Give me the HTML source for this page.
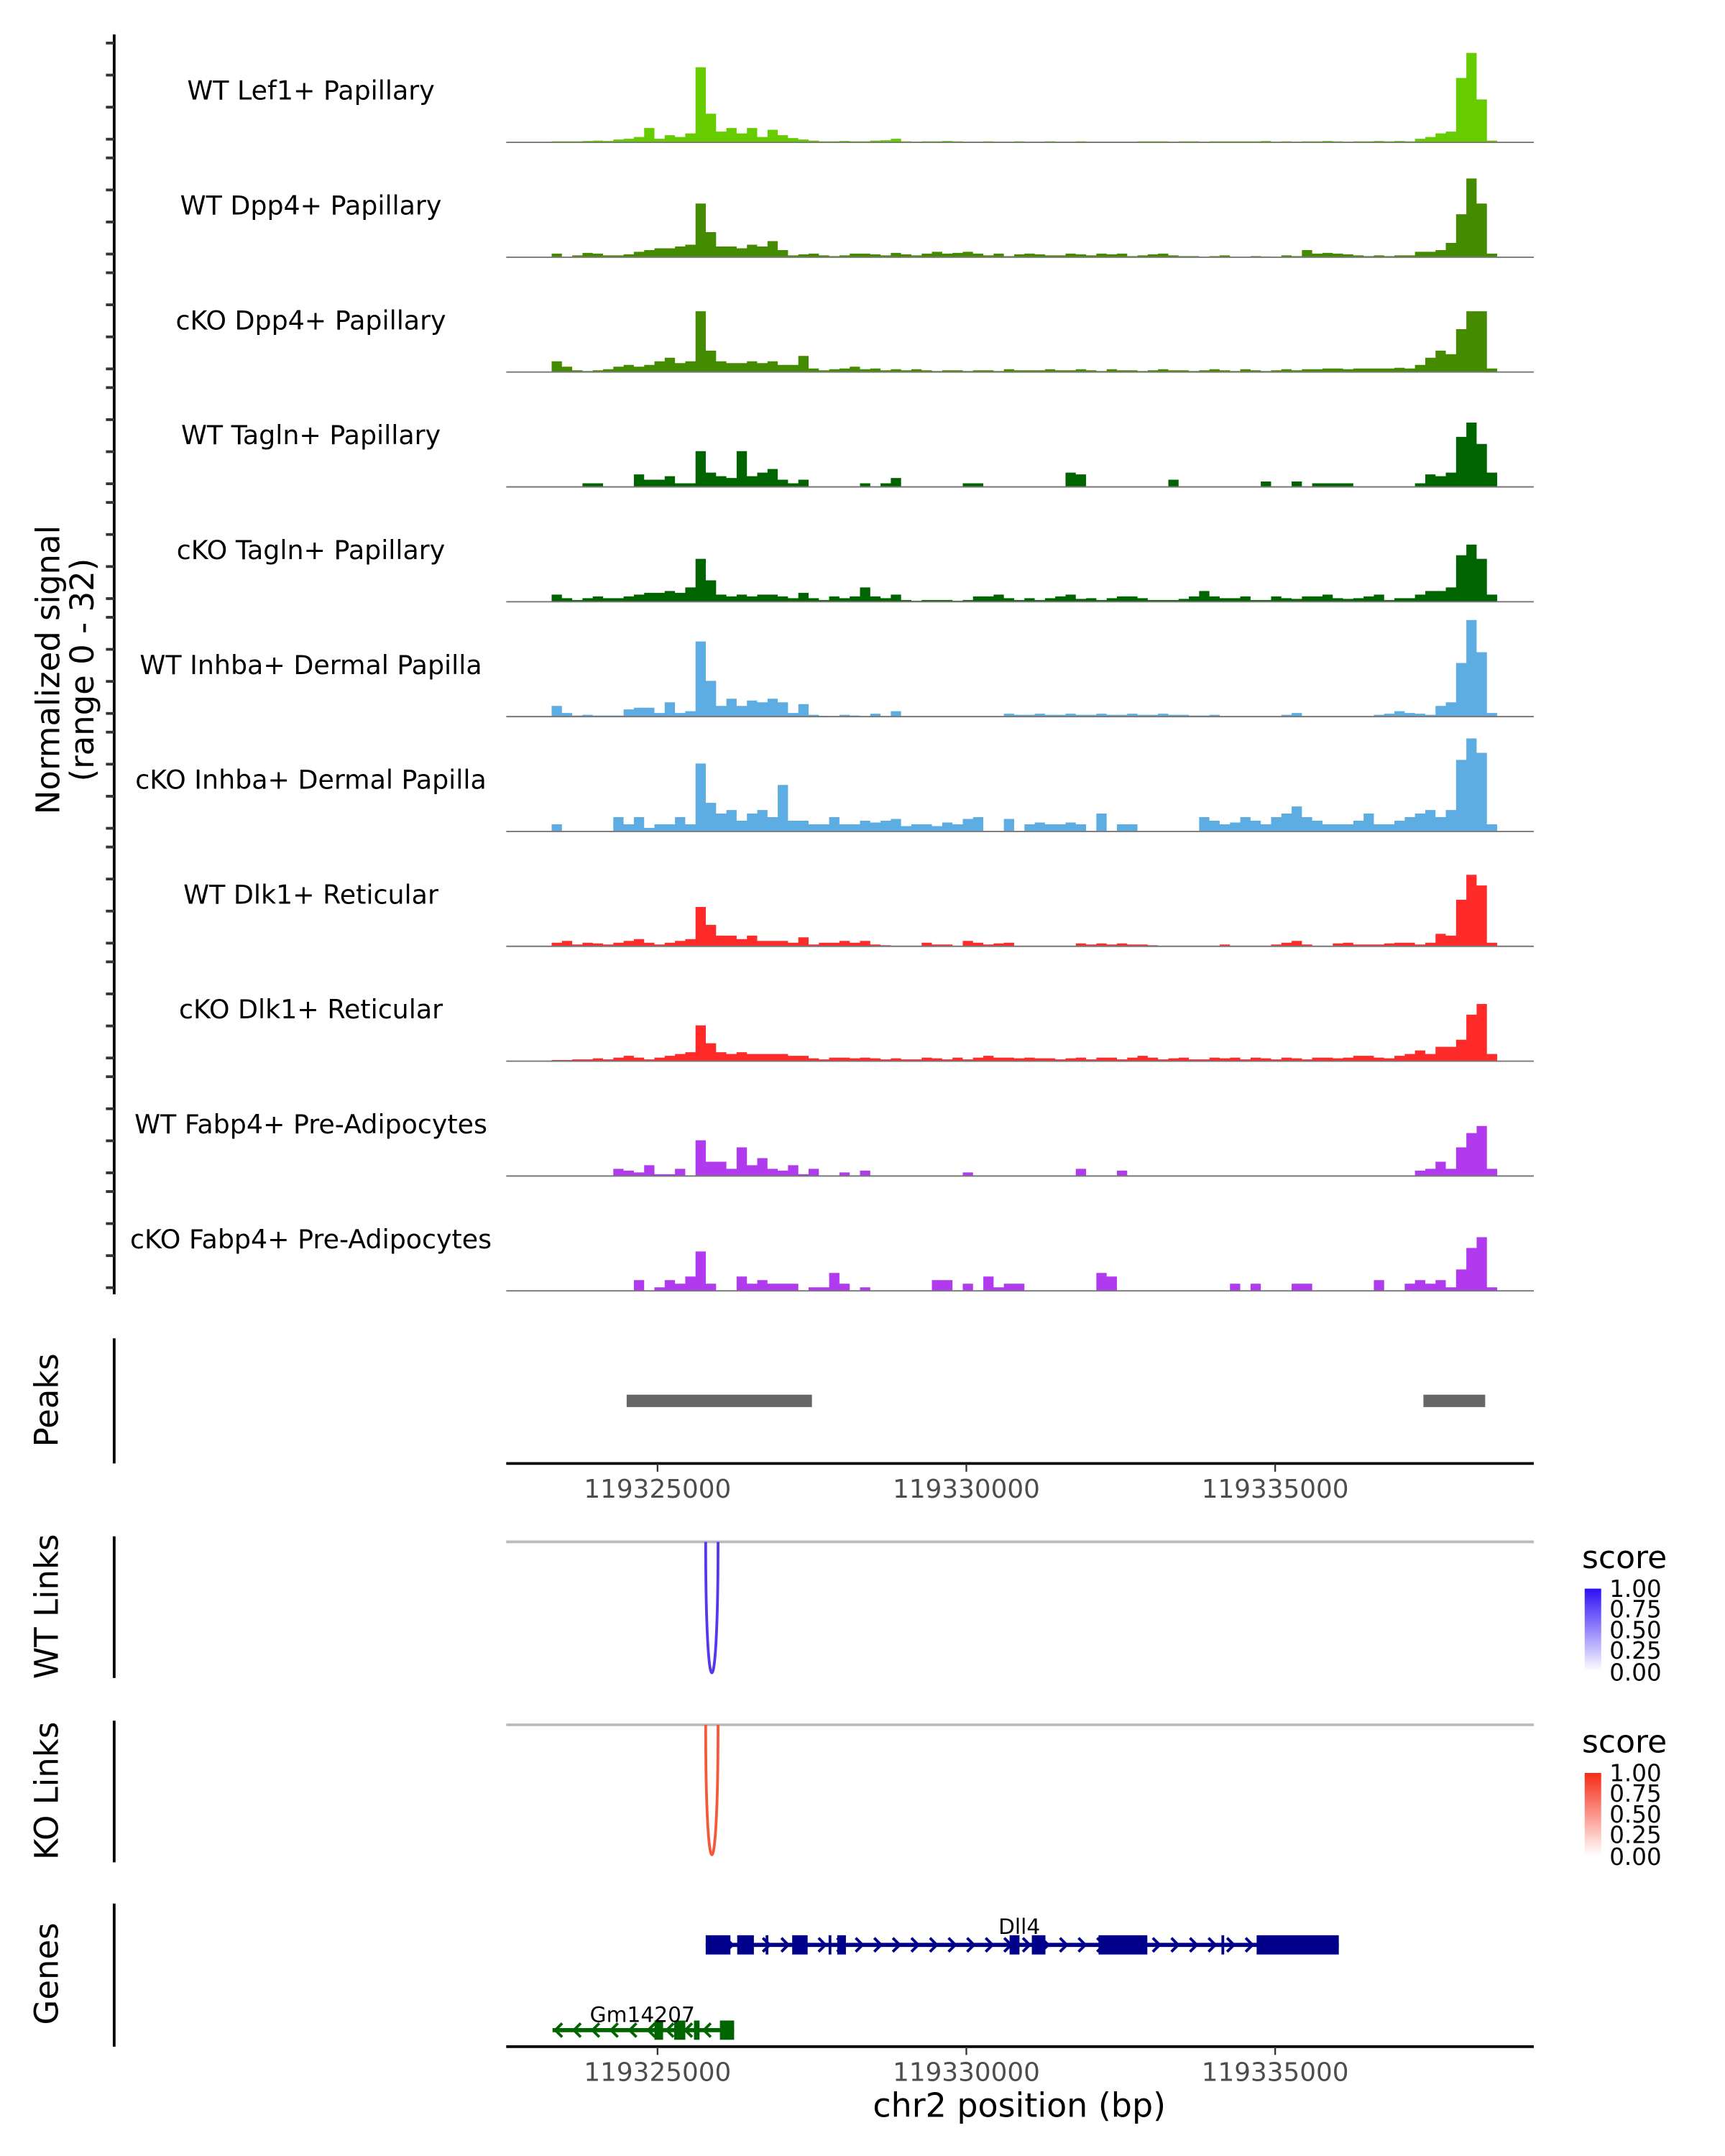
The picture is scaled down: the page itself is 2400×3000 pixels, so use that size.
<!DOCTYPE html>
<html><head><meta charset="utf-8"><style>
html,body{margin:0;padding:0;background:#fff;}
svg{display:block;font-family:"DejaVu Sans","Liberation Sans",sans-serif;}
</style></head><body>
<svg id="chart" width="2400" height="3000" viewBox="0 0 1254 1567.5" preserveAspectRatio="none" xmlns="http://www.w3.org/2000/svg">
<rect width="1254" height="1568" fill="#fff"/>
<g id="tracks"></g>
<line x1="83" y1="25" x2="83" y2="941" stroke="#000" stroke-width="2"/>
<g id="yticks"></g>
<text transform="translate(43,487) rotate(-90)" text-anchor="middle" font-size="23.5">Normalized signal</text>
<text transform="translate(68,487) rotate(-90)" text-anchor="middle" font-size="23.5">(range 0 - 32)</text>

<line x1="83" y1="973" x2="83" y2="1064" stroke="#000" stroke-width="2"/>
<text transform="translate(42,1018) rotate(-90)" text-anchor="middle" font-size="23.5">Peaks</text>
<g id="peaks"></g>
<g id="xaxis1"></g>

<line x1="83" y1="1117" x2="83" y2="1220" stroke="#000" stroke-width="2"/>
<text transform="translate(42,1168) rotate(-90)" text-anchor="middle" font-size="23.5">WT Links</text>
<line x1="368" y1="1121" x2="1115" y2="1121" stroke="#bbb" stroke-width="2"/>
<path d="M513 1121 C513 1248 522 1248 522 1121" fill="none" stroke="#5a35ee" stroke-width="2"/>
<text x="1150" y="1140" font-size="23">score</text>
<defs>
<linearGradient id="gb" x1="0" y1="1" x2="0" y2="0"><stop offset="0" stop-color="#fff"/><stop offset="1" stop-color="#2b0ff5"/></linearGradient>
<linearGradient id="gr" x1="0" y1="1" x2="0" y2="0"><stop offset="0" stop-color="#fff"/><stop offset="1" stop-color="#f52a15"/></linearGradient>
</defs>
<rect x="1152" y="1155" width="12" height="60" fill="url(#gb)"/>
<g font-size="17">
<text x="1170" y="1161">1.00</text><text x="1170" y="1176">0.75</text><text x="1170" y="1191">0.50</text><text x="1170" y="1206">0.25</text><text x="1170" y="1222">0.00</text></g>

<line x1="83" y1="1251" x2="83" y2="1354" stroke="#000" stroke-width="2"/>
<text transform="translate(42,1302) rotate(-90)" text-anchor="middle" font-size="23.5">KO Links</text>
<line x1="368" y1="1254" x2="1115" y2="1254" stroke="#bbb" stroke-width="2"/>
<path d="M513 1254 C513 1380 522 1380 522 1254" fill="none" stroke="#f5593a" stroke-width="2"/>
<text x="1150" y="1274" font-size="23">score</text>
<rect x="1152" y="1289" width="12" height="60" fill="url(#gr)"/>
<g font-size="17">
<text x="1170" y="1295">1.00</text><text x="1170" y="1310">0.75</text><text x="1170" y="1325">0.50</text><text x="1170" y="1340">0.25</text><text x="1170" y="1356">0.00</text></g>

<line x1="83" y1="1384" x2="83" y2="1488" stroke="#000" stroke-width="2"/>
<text transform="translate(42,1435) rotate(-90)" text-anchor="middle" font-size="23.5">Genes</text>
<g id="genes"></g>
<g id="xaxis2"></g>
<text x="741" y="1539" text-anchor="middle" font-size="24">chr2 position (bp)</text>
</svg>
<script>
const NS="http://www.w3.org/2000/svg";
const trackNames=["WT Lef1+ Papillary","WT Dpp4+ Papillary","cKO Dpp4+ Papillary","WT Tagln+ Papillary","cKO Tagln+ Papillary","WT Inhba+ Dermal Papilla","cKO Inhba+ Dermal Papilla","WT Dlk1+ Reticular","cKO Dlk1+ Reticular","WT Fabp4+ Pre-Adipocytes","cKO Fabp4+ Pre-Adipocytes"];
const trackColors=["#66cc00","#458b00","#458b00","#006400","#006400","#5dade2","#5dade2","#ff2a2a","#ff2a2a","#b23aee","#b23aee"];
const binStart=119322620, binSize=166.4;
const tickPositions=[119325000,119330000,119335000];
const tickLabels=["119325000","119330000","119335000"];
const yTickValues=[0,10,20,30];
const wtLef1=[0,0,0,0,0.3,0.3,0.3,0.4,0.5,0.4, 0.8,1,1.5,4,1,2,1.5,2.5,21,8, 3,4,2.5,4,1.5,3.5,2,1.2,0.8,0.5, 0.3,0.3,0.4,0.3,0.3,0.5,0.6,1,0.3,0.2, 0.3,0.3,0.4,0.3,0.2,0.2,0.3,0.2,0.2,0.3, 0.2,0.2,0.3,0.2,0.2,0.3,0.2,0.2,0.2,0.2, 0.2,0.3,0.3,0.3,0.2,0.3,0.3,0.2,0.3,0.3, 0.3,0.3,0.3,0.4,0.2,0.3,0.2,0.3,0.3,0.4, 0.3,0.2,0.3,0.3,0.4,0.3,0.4,0.3,1,1.5, 2.5,3,18,25,12,0.5,0,0,0,0];
const wtDpp4=[0,0,0,0,1,0,0.5,1.2,1,0.5, 0.5,0.8,1.5,2,2.5,2.5,3,3.5,15,7, 3,3,2.5,3.5,3,4.5,2,0.5,0.8,1, 0.5,0.3,0.5,1,1,0.8,0.5,1.2,0.8,0.5, 1,1.5,1,1.2,1.5,1,0.5,1,0.3,0.8, 1,0.8,0.5,0.5,1,0.8,0.5,1,0.8,1, 0.3,0.5,0.8,1,0.5,0.3,0.3,0,0.3,0.5, 0,0,0.3,0.2,0,0.5,0.3,2,1,1.2, 1,0.8,0.5,0.3,0.5,0.3,0.5,0.5,1.5,1.5, 2,4,12,22,15,1,0,0,0,0];
const ckoDpp4=[0,0,0,0,3,1.5,0.5,0.3,0.5,0.8, 1.5,2,1.5,2,3,4,2.5,3,17,6, 3,2.5,2.5,3,2.5,3,2,2,4.5,1, 0.5,0.8,1,1.5,0.8,1,0.5,0.8,0.5,0.8, 0.5,0.3,0.5,0.5,0.3,0.5,0.5,0.3,0.8,0.5, 0.5,0.5,0.8,0.5,0.5,0.8,0.5,0.3,0.8,0.5, 0.5,0.3,0.5,0.8,0.5,0.5,0.3,0.5,0.8,0.5, 0.3,0.8,0.5,0.3,0.5,0.8,0.5,0.8,0.8,1, 1,0.8,1,1,1,1,1.2,1,2,4, 6,5,12,17,17,1,0,0,0,0];
const wtTagln=[0,0,0,0,0,0,0,1,1,0, 0,0,3.5,2,2,3,1,1,10,4, 3,2.5,10,3,4,5,2,1,2,0, 0,0,0,0,1,0,1,2.5,0,0, 0,0,0,0,1,1,0,0,0,0, 0,0,0,0,4,3.5,0,0,0,0, 0,0,0,0,2,0,0,0,0,0, 0,0,0,1.5,0,0,1.5,0,1,1, 1,1,0,0,0,0,0,0,1,3.5, 3,4,14,18,12,4,0,0,0,0];
const ckoTagln=[0,0,0,0,2,1,0.5,1,1.5,1, 1,1.5,2,2.5,2.5,3,2.5,4,12,6, 2,1.5,2,1.5,2,2,1.5,1,2.5,1, 0.5,1.5,1,1.5,4,1.5,1,2,0.5,0.3, 0.5,0.5,0.5,0.3,0.5,1.5,1.5,2,1,0.5, 1,0.5,1,1.5,2,0.8,1,0.5,1,1.5, 1.5,1,0.5,0.5,0.5,0.8,1.5,3,1.5,1, 1,1.5,0.5,0.5,1.5,1,0.8,1.5,1.5,2, 1,0.8,1,1.5,2,0.5,1,1,2,3, 3,4,13,16,12,2,0,0,0,0];
const wtInhba=[0,0,0,0,3,1,0.3,0.5,0.3,0.3, 0.3,2,2.5,2.5,1,4,1,1.5,21,10, 3,5,3,4.5,4,5,4,1,3.5,0.5, 0.2,0,0.5,0.3,0,0.8,0,1.5,0,0, 0,0,0,0,0,0,0,0,0.8,0.5, 0.5,0.8,0.5,0.5,0.8,0.5,0.5,0.8,0.5,0.5, 0.8,0.5,0.5,0.8,0.5,0.5,0.3,0.3,0.5,0, 0,0,0,0,0,0.5,1,0,0,0, 0,0,0,0,0.5,0.8,1.5,1,0.8,0.5, 3,4,15,27,18,1,0,0,0,0];
const ckoInhba=[0,0,0,0,2,0,0,0,0,0, 4,2,4,1,2,2,4,2,19,8, 5,6,3,5,6,4,13,3,3,2, 2,4,2,2,3,2.5,3,3.5,1.5,2, 2,1.5,2.5,2,3.5,4,0,0,3.5,0, 2,2.5,2,2,2.5,2,0,5,0,2, 2,0,0,0,0,0,0,4,3,2, 2.5,4,3,2,4,5,7,4,3,2, 2,2,3,5,2,2,3,4,5,6, 4,6,20,26,22,2,0,0,0,0];
const wtDlk1=[0,0,0,0,1,1.5,0.5,1,0.8,0.5, 1,1.5,2,1,0.5,1,1.5,2,11,6, 3,3,2,3,1.5,1.5,1.5,1,2.5,0.5, 1,1,1.5,1,1.5,0.5,0.3,0,0,0, 1,0.5,0.5,0,1.5,1,0.5,0.8,1,0, 0,0,0,0,0,0.8,0.5,0.8,0.5,0.8, 0.5,0.5,0.3,0,0,0,0,0,0,0.5, 0,0,0,0,0.5,1,1.5,0.5,0,0, 0.8,1,0.5,0.5,0.5,0.8,1,1,0.5,1, 3.5,3,13,20,17,1,0,0,0,0];
const ckoDlk1=[0,0,0,0,0.3,0.3,0.5,0.5,0.8,0.5, 1,1.5,1,0.5,1,1.5,2,2.5,10,5, 2.5,2,2.5,2,2,2,2,1.5,1.5,0.8, 0.5,1,1,0.8,1,0.8,0.5,0.8,0.5,0.5, 1,0.8,0.5,1,0.5,1,1.5,1,1,0.8, 1,0.8,0.8,0.5,0.8,1,0.5,1,1,0.5, 1,1.5,1,0.5,0.8,1,0.5,0.5,1,0.8, 1,0.5,1,0.8,0.5,1,0.8,0.5,1,1, 0.8,1,1.5,1.5,1,0.8,1.5,2,3,2, 4,4,6,13,16,2,0,0,0,0];
const wtFabp4=[0,0,0,0,0,0,0,0,0,0, 2,1.5,1,3,0.5,0.5,2,0,10,4, 4,2,8,3,5,2,1.5,3,0.5,2, 0,0,1,0,1.5,0,0,0,0,0, 0,0,0,0,1,0,0,0,0,0, 0,0,0,0,0,2,0,0,0,1.5, 0,0,0,0,0,0,0,0,0,0, 0,0,0,0,0,0,0,0,0,0, 0,0,0,0,0,0,0,0,1.5,2, 4,2,8,12,14,2,0,0,0,0];
const ckoFabp4=[0,0,0,0,0,0,0,0,0,0, 0,0,3,0,1,3,2,4,11,2, 0,0,4,2,3,2,2,2,0,1, 1,5,2,0,1,0,0,0,0,0, 0,3,3,0,2,0,4,1,2,2, 0,0,0,0,0,0,0,5,4,0, 0,0,0,0,0,0,0,0,0,0, 2,0,2,0,0,0,2,2,0,0, 0,0,0,0,3,0,0,2,3,2, 3,1,6,12,15,1,0,0,0,0];
const trackValues=[wtLef1,wtDpp4,ckoDpp4,wtTagln,ckoTagln,wtInhba,ckoInhba,wtDlk1,ckoDlk1,wtFabp4,ckoFabp4];
const peakStarts=[119324500,119337400];
const peakEnds=[119327500,119338400];
const dll4Exons=[[119325780,119326180],[119326290,119326560],[119326750,119326790],[119327180,119327430],[119327770,119327800],[119327910,119328050],[119330700,119330860],[119331060,119331280],[119332140,119332930],[119334130,119334170],[119334700,119336030]];
const dll4Range=[119325780,119336030];
const gmExons=[[119324950,119325090],[119325270,119325450],[119325590,119325680],[119326010,119326240]];
const gmRange=[119323300,119326240];

const X0=119325000, PX0=478, PXPER=224.5/5000;
const xs=p=>PX0+(p-X0)*PXPER;
const trackH=83.5, firstBase=103.5, unit=2.6;
const ys=(v,base)=>base-v*unit;
const tg=document.getElementById('tracks');
function mk(tag,attrs,parent){const e=document.createElementNS(NS,tag);for(const k in attrs)e.setAttribute(k,attrs[k]);parent.appendChild(e);return e;}
const ytg=document.getElementById('yticks');
trackValues.forEach((vals,t)=>{
  const base=firstBase+t*trackH;
  let d=`M${xs(binStart)} ${base}`;
  vals.forEach((v,i)=>{const x1=xs(binStart+i*binSize),x2=xs(binStart+(i+1)*binSize);d+=` L${x1.toFixed(2)} ${ys(v,base).toFixed(2)} L${x2.toFixed(2)} ${ys(v,base).toFixed(2)}`;});
  d+=` L${xs(binStart+vals.length*binSize)} ${base} Z`;
  const p=mk('path',{d:d,fill:trackColors[t]},tg);
  
  
  const bl=mk('line',{x1:368,x2:1115,y1:base,y2:base,stroke:'#777','stroke-width':1},tg);
  
  
  const lb=mk('text',{x:226,y:base-31,'text-anchor':'middle','font-size':19},tg);
  lb.textContent=trackNames[t];
  
  
  yTickValues.forEach(v=>{
    const y=base-2.3-v*2.33;
    const l=mk('line',{x1:77,x2:83,y1:y,y2:y,stroke:'#333','stroke-width':2},ytg);
    
    
  });
});
const pg=document.getElementById('peaks');
peakStarts.forEach((s,i)=>{const r=mk('rect',{x:xs(s),y:1014,width:xs(peakEnds[i])-xs(s),height:9,fill:'#666'},pg);
  
  });
function xaxis(id,y){
  const g=document.getElementById(id);
  const ax=mk('line',{x1:368,x2:1115,y1:y,y2:y,stroke:'#000','stroke-width':2},g);
  
  
  tickPositions.forEach((p,i)=>{
    const t=mk('line',{x1:xs(p),x2:xs(p),y1:y,y2:y+6,stroke:'#333','stroke-width':1.2},g);
    
    
    const tx=mk('text',{x:xs(p),y:y+25,'text-anchor':'middle','font-size':18.7,fill:'#4d4d4d'},g);
    tx.textContent=tickLabels[i];
    
    
  });
}
xaxis('xaxis1',1064);xaxis('xaxis2',1488);
const gg=document.getElementById('genes');
function gene(range,exons,y,color,dir,name,lx,ly,fs){
  const ln=mk('line',{x1:xs(range[0]),x2:xs(range[1]),y1:y,y2:y,stroke:color,'stroke-width':3},gg);
  
  
  const a=xs(range[0]),b=xs(range[1]);
  for(let x=a+4;x<b;x+=13.5){
    const c=mk('path',{d:dir>0?`M${x-3} ${y-5} L${x+2} ${y} L${x-3} ${y+5}`:`M${x+3} ${y-5} L${x-2} ${y} L${x+3} ${y+5}`,fill:'none',stroke:color,'stroke-width':2},gg);
    
    
  }
  exons.forEach(e=>{const r=mk('rect',{x:xs(e[0]),y:y-7,width:Math.max(2,xs(e[1])-xs(e[0])),height:14,fill:color},gg);
    
    });
  const t=mk('text',{x:lx,y:ly,'text-anchor':'middle','font-size':fs},gg);
  t.textContent=name;
  
  
}
gene(dll4Range,dll4Exons,1414,'#00008b',1,'Dll4',741,1406,15.5);
gene(gmRange,gmExons,1476,'#006400',-1,'Gm14207',467,1470,15.5);
</script>
</body></html>
